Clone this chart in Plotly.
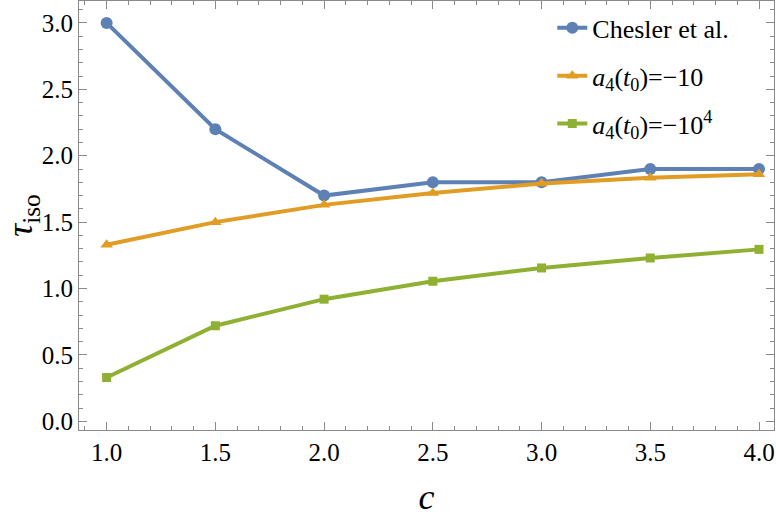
import plotly.graph_objects as go

# valeurs
c_vals = [1.0, 1.5, 2.0, 2.5, 3.0, 3.5, 4.0]
tau_chesler = [3.0, 2.2, 1.7, 1.8, 1.8, 1.9, 1.9]
tau_a4_10 = [1.33, 1.50, 1.63, 1.72, 1.79, 1.835, 1.86]
tau_a4_1e4 = [0.33, 0.72, 0.92, 1.055, 1.155, 1.23, 1.295]

x_ticks = [1.0, 1.5, 2.0, 2.5, 3.0, 3.5, 4.0]
y_ticks = [0.0, 0.5, 1.0, 1.5, 2.0, 2.5, 3.0]

POLICE = "Liberation Serif"

series = [
    ("Chesler et al.", tau_chesler, "#5E81B5", "circle", 12),
    ("<i>a</i><sub>4</sub>(<i>t</i><sub>0</sub>)=\u221210", tau_a4_10, "#E19C24", "triangle-up", 11),
    ("<i>a</i><sub>4</sub>(<i>t</i><sub>0</sub>)=\u221210<sup>4</sup>", tau_a4_1e4, "#8FB032", "square", 9),
]

fig = go.Figure()
for i, (nom, vals, couleur, symb, taille) in enumerate(series):
    fig.add_trace(go.Scatter(
        x=c_vals, y=vals, name=nom, mode="lines+markers",
        line=dict(color=couleur, width=4),
        marker=dict(color=couleur, symbol=symb, size=taille),
        legendgroup=f"g{i}",
    ))

axe = dict(
    showgrid=False, zeroline=False, showline=True, linecolor="#8a8a8a", linewidth=1,
    mirror="allticks", ticks="inside", ticklen=8, tickcolor="#8a8a8a", tickwidth=1,
    tickfont=dict(family=POLICE, size=25, color="black"),
)

fig.update_xaxes(
    **axe, range=[0.873, 4.069], tickvals=x_ticks, ticktext=[f"{v:.1f}" for v in x_ticks],
    minor=dict(dtick=0.1, ticks="inside", ticklen=4, tickcolor="#8a8a8a"),
    title=dict(text="<i>c</i>", font=dict(family=POLICE, size=36, color="black"), standoff=19),
)
fig.update_yaxes(
    **axe, range=[-0.065, 3.165], tickvals=y_ticks, ticktext=[f"{v:.1f}" for v in y_ticks],
    minor=dict(dtick=0.1, ticks="inside", ticklen=4, tickcolor="#8a8a8a"),
    title=dict(text="<i>\u03c4</i><sub>iso</sub>", font=dict(family=POLICE, size=36, color="black"), standoff=6),
)

fig.update_layout(
    width=776, height=517,
    margin=dict(l=79, r=2, t=1, b=87, autoexpand=False),
    font=dict(family=POLICE, size=25, color="black"),
    plot_bgcolor="white", paper_bgcolor="white",
    legend=dict(
        x=0.681, y=0.992, xanchor="left", yanchor="top",
        font=dict(family=POLICE, size=26, color="black"),
        bgcolor="rgba(0,0,0,0)", traceorder="grouped", tracegroupgap=11,
    ),
)

fig.write_html("out.html", config={"displayModeBar": False},
               post_script="document.body.style.margin='0';")
